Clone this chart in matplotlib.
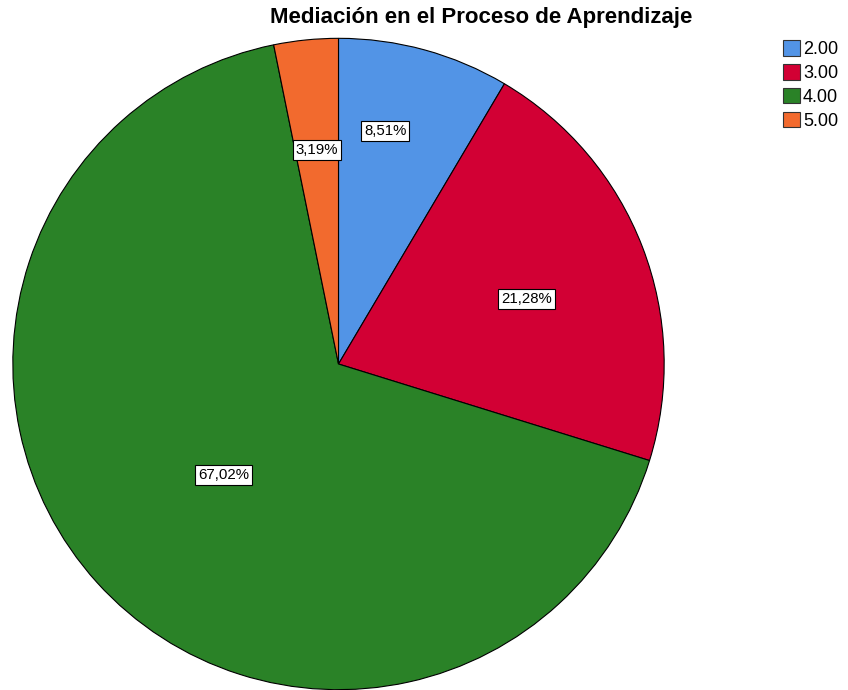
import numpy as np
import matplotlib.pyplot as plt
from matplotlib.patches import Patch

plt.rcParams['font.family'] = ['Liberation Sans', 'DejaVu Sans']

categories = ['2.00', '3.00', '4.00', '5.00']
percents = [8.51, 21.28, 67.02, 3.19]
pct_labels = ['8,51%', '21,28%', '67,02%', '3,19%']
colors = ['#5294E6', '#D20034', '#2A8227', '#F26A2E']
# radial position and angle nudge (deg) of each percent label
label_radius = [0.73, 0.61, 0.49, 0.66]
label_nudge = [4, -2, 2, 0]

fig = plt.figure(figsize=(8.48, 6.9), dpi=100)
ax = fig.add_axes([12 / 848, 0, 653 / 848, 652 / 690])

wedges, _ = ax.pie(percents, colors=colors, startangle=90, counterclock=False,
                   wedgeprops={'edgecolor': 'black', 'linewidth': 0.8})
ax.set_xlim(-1.001, 1.001)
ax.set_ylim(-1.001, 1.001)
ax.set_aspect('equal')

for w, lab, r, d in zip(wedges, pct_labels, label_radius, label_nudge):
    mid = np.deg2rad((w.theta1 + w.theta2) / 2 + d)
    ax.text(r * np.cos(mid), r * np.sin(mid), lab, ha='center', va='center', fontsize=10.8,
            bbox=dict(boxstyle='square,pad=0.2', facecolor='white', edgecolor='black', linewidth=0.8))

fig.text(481 / 848, 1 - 18 / 690, 'Mediación en el Proceso de Aprendizaje',
         ha='center', va='center', fontsize=16, fontweight='bold')

handles = [Patch(facecolor=c, edgecolor='#333333', linewidth=0.8) for c in colors]
fig.legend(handles, categories, loc='upper left', bbox_to_anchor=(783 / 848, 1 - 40 / 690),
           frameon=False, fontsize=13, handlelength=0.95, handleheight=0.95,
           handletextpad=0.15, labelspacing=0.33, borderpad=0, borderaxespad=0)

fig.savefig('out.png', dpi=100)
